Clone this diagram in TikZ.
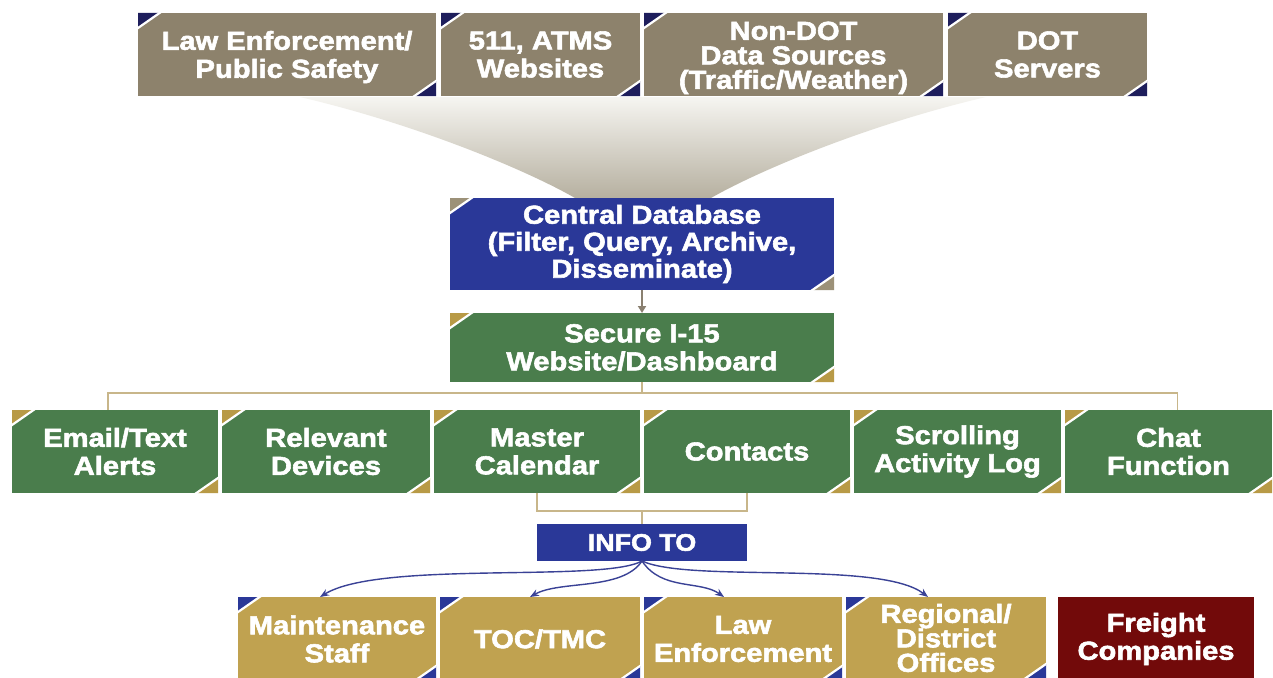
\documentclass[tikz,border=0pt]{standalone}
\usepackage{fontspec}
\setmainfont{Liberation Sans}
\newfontfamily\bxfont[FakeStretch=1.12, BoldFeatures={FakeBold=2.2}]{Liberation Sans}
\usetikzlibrary{arrows.meta}
\definecolor{khaki}{RGB}{141,130,108}
\definecolor{khakilt}{RGB}{156,145,120}
\definecolor{navy}{RGB}{30,30,92}
\definecolor{dbblue}{RGB}{42,56,152}
\definecolor{grn}{RGB}{74,125,76}
\definecolor{gold}{RGB}{192,162,80}
\definecolor{goldc}{RGB}{184,154,70}
\definecolor{dred}{RGB}{114,10,10}
\definecolor{conn}{RGB}{200,182,138}
\definecolor{arrgray}{RGB}{138,128,112}
\definecolor{arrblue}{RGB}{58,66,150}
\definecolor{funtop}{RGB}{246,245,241}
\definecolor{funbot}{RGB}{182,176,160}
\tikzset{
  corners/.style={path picture={
    \fill[#1] (path picture bounding box.north west) -- ++(22pt,0) -- ++(-22pt,-15pt) -- cycle;
    \fill[#1] (path picture bounding box.south east) -- ++(-22pt,0) -- ++(22pt,15pt) -- cycle;
    \draw[white,line width=2.2pt] ([xshift=23pt,yshift=1pt]path picture bounding box.north west) -- ([xshift=-1pt,yshift=-15.7pt]path picture bounding box.north west);
    \draw[white,line width=2.2pt] ([xshift=-23pt,yshift=-1pt]path picture bounding box.south east) -- ([xshift=1pt,yshift=15.7pt]path picture bounding box.south east);
  }},
  box/.style={anchor=north west, inner sep=0pt, outer sep=0pt, align=center, text=white,
    font=\bxfont\bfseries\fontsize{26}{28}\selectfont},
  sz/.style 2 args={minimum width=#1pt, minimum height=#2pt},
  tight/.style={font=\bxfont\bfseries\fontsize{26}{24.5}\selectfont},
  srcbox/.style={box, fill=khaki, corners=navy},
  webbox/.style={box, fill=grn, corners=goldc},
  tobox/.style={box, fill=gold, corners=dbblue},
  line/.style={draw=conn, line width=1.6pt},
  grayarrow/.style={draw=arrgray, line width=1.8pt, -{Triangle[length=7pt,width=8pt]}},
  bluearrow/.style={draw=arrblue, line width=1.4pt, -{Stealth[length=9pt,width=7pt]}},
}
\begin{document}
\begin{tikzpicture}[x=1pt,y=-1pt]
\useasboundingbox (0,0) rectangle (1273,677);
\fill[white] (0,0) rectangle (1273,677);
% funnel
\shade[top color=funtop, bottom color=funbot]
  (300,97) .. controls (420,125) and (530,172) .. (575,198)
  -- (711,198) .. controls (756,172) and (866,125) .. (986,97) -- cycle;
% sources
\node[srcbox, sz={298}{83}] (le) at (138,13) {\rule{0pt}{24pt}Law Enforcement/\\Public Safety};
\node[srcbox, sz={199}{83}] (atms) at (441,13) {511, ATMS\\Websites};
\node[srcbox, tight, sz={299}{83}] (ndot) at (644,13) {\rule{0pt}{25pt}Non-DOT\\Data Sources\\(Traffic/Weather)};
\node[srcbox, sz={199}{83}] (dots) at (948,13) {DOT\\Servers};
% central
\node[box, fill=dbblue, corners=khakilt, sz={384}{92}, font=\bxfont\bfseries\fontsize{26}{27}\selectfont] (cdb) at (450,198) {Central Database\\(Filter, Query, Archive,\\Disseminate)};
\node[webbox, sz={384}{69}] (sec) at (450,313) {Secure I-15\\Website/Dashboard};
% functions
\node[webbox, sz={206}{83}] (email) at (12,410) {Email/Text\\Alerts};
\node[webbox, sz={208}{83}] (rel) at (222,410) {Relevant\\Devices};
\node[webbox, sz={206}{83}] (mc) at (434,410) {Master\\Calendar};
\node[webbox, sz={206}{83}] (ct) at (644,410) {Contacts};
\node[webbox, sz={207}{83}] (scr) at (854,410) {Scrolling\\Activity Log};
\node[webbox, sz={207}{83}] (chat) at (1065,410) {Chat\\Function};
% info to
\node[box, fill=dbblue, sz={210}{37}, font=\bxfont\bfseries\fontsize{24}{26}\selectfont] (info) at (537,524) {INFO TO};
% recipients
\node[tobox, sz={198}{84}] (ms) at (238,597) {Maintenance\\Staff};
\node[tobox, sz={200}{84}] (toc) at (440,597) {TOC/TMC};
\node[tobox, sz={198}{84}] (lawb) at (644,597) {Law\\Enforcement};
\node[tobox, tight, sz={200}{82}] (reg) at (846,597) {Regional/\\District\\Offices};
\node[box, fill=dred, sz={196}{84}] (fr) at (1058,597) {Freight\\Companies};
% connectors
\draw[grayarrow] (cdb.south) -- (sec.north);
\draw[line] (sec.south) -- ++(0,-11pt);
\draw[line] ([xshift=-7pt]email.north) |- ([yshift=-11pt]sec.south) -| ([xshift=9pt]chat.north);
\draw[line] (mc.south) -- ++(0,-18pt) -| (ct.south);
\draw[line] (info.north) -- ++(0,13pt);
\draw[bluearrow] (info.south) .. controls +(-40pt,-22pt) and +(60pt,37pt) .. ([xshift=-17pt]ms.north);
\draw[bluearrow] (info.south) .. controls +(-20pt,-30pt) and +(30pt,17pt) .. ([xshift=-10pt]toc.north);
\draw[bluearrow] (info.south) .. controls +(20pt,-30pt) and +(-24pt,17pt) .. ([xshift=-19pt]lawb.north);
\draw[bluearrow] (info.south) .. controls +(48pt,-22pt) and +(-48pt,37pt) .. ([xshift=-18pt]reg.north);
\end{tikzpicture}
\end{document}
